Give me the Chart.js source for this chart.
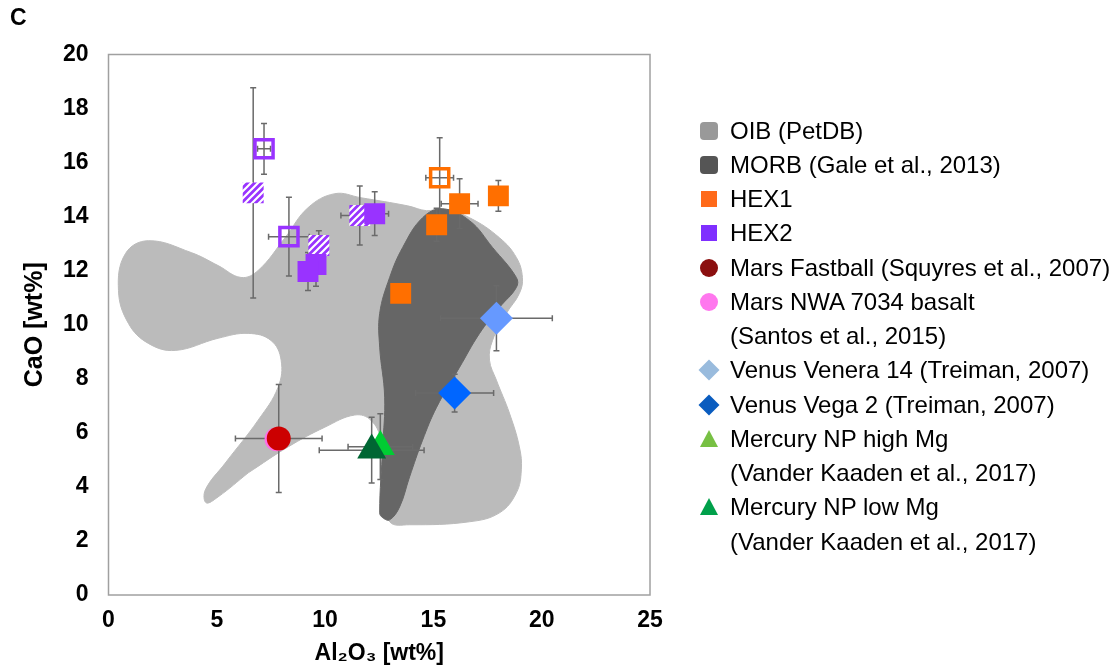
<!DOCTYPE html>
<html>
<head>
<meta charset="utf-8">
<script src="https://cdn.jsdelivr.net/npm/chart.js@4.4.1/dist/chart.umd.min.js"></script>
<style>
  body { margin: 0; background: #fff; font-family: "Liberation Sans", Arial, sans-serif; }
  #wrap { position: relative; width: 1115px; height: 672px; }
  #painel { position: absolute; left: 10px; top: 4px; font-weight: bold; font-size: 23px; }
  #legenda { position: absolute; left: 697px; top: 113.5px; font-size: 24px; color: #000; }
  .linha { height: 34.27px; line-height: 34.27px; white-space: nowrap; position: relative; padding-left: 33px; }
  .linha svg { position: absolute; left: 0; top: 5px; }
</style>
</head>
<body>
<div id="wrap">
  <canvas id="grafico" width="1115" height="672"></canvas>
  <div id="painel">C</div>
  <div id="legenda"></div>
</div>
<script>
// ---- dados ----
const xTicks = [0, 5, 10, 15, 20, 25];
const yTicks = [0, 2, 4, 6, 8, 10, 12, 14, 16, 18, 20];

// contorno OIB (PetDB) - começa num trecho reto da cauda inferior
const oibX = [6.45, 5.06, 4.51, 4.47, 5.39, 6.91, 7.83, 7.97, 7.50, 6.45, 5.06, 3.08, 1.84, 0.92, 0.46, 0.78, 1.84, 3.82, 5.06, 6.12, 6.91, 8.15, 9.21, 10.45, 11.65, 13.81, 14.69, 15.42, 16.67, 18.05, 18.83, 19.11, 18.97, 18.37, 17.73, 17.59, 17.91, 18.51, 18.97, 19.06, 18.83, 18.05, 16.67, 13.90, 12.98, 12.62, 12.57, 12.11, 11.37, 9.99, 8.29, 6.45];
const oibY = [4.52, 3.63, 3.41, 3.89, 4.88, 6.47, 7.69, 8.69, 9.42, 9.68, 9.50, 9.05, 9.31, 10.05, 11.27, 12.63, 13.11, 12.67, 12.19, 11.75, 12.01, 13.22, 14.33, 14.85, 14.70, 14.40, 14.22, 14.29, 13.96, 13.22, 12.49, 11.75, 11.16, 10.42, 9.42, 8.69, 7.95, 6.73, 5.48, 4.63, 3.78, 3.04, 2.71, 2.60, 2.71, 3.89, 5.73, 6.47, 6.66, 6.21, 5.48, 4.52];

// contorno MORB (Gale et al., 2013)
const morbX = [16.21, 15.15, 14.50, 13.90, 13.44, 12.98, 12.66, 12.52, 12.66, 12.75, 12.52, 12.52, 12.98, 13.58, 14.50, 15.42, 16.67, 17.73, 18.83, 18.83, 18.05, 17.13, 16.21];
const morbY = [8.43, 6.95, 5.73, 4.37, 3.26, 2.78, 2.86, 3.04, 5.48, 7.32, 9.17, 10.42, 11.75, 12.86, 13.96, 14.29, 13.85, 12.86, 11.75, 11.38, 10.64, 9.68, 8.43];

// HEX1
const hex1X = [16.21, 18.00, 15.15, 13.49];
const hex1Y = [14.48, 14.77, 13.70, 11.16];
const hex1XErr = [0.85, 0, 0, 0];
const hex1YErr = [0.92, 0.57, 0.61, 0];
const hex1AbertoX = [15.29];
const hex1AbertoY = [15.44];
const hex1AbertoXErr = [0.64];
const hex1AbertoYErr = [1.48];

// HEX2
const hex2X = [12.29, 9.58, 9.21];
const hex2Y = [14.11, 12.23, 11.97];
const hex2XErr = [0.64, 0, 0];
const hex2YErr = [0.81, 0.81, 0.70];
const hex2HachX = [6.68, 9.71, 11.60];
const hex2HachY = [14.88, 12.93, 14.04];
const hex2HachXErr = [0, 0, 0.87];
const hex2HachYErr = [3.89, 0.55, 1.09];
const hex2AbertoX = [7.18, 8.33];
const hex2AbertoY = [16.51, 13.26];
const hex2AbertoXErr = [0.30, 0.94];
const hex2AbertoYErr = [0.94, 1.46];

// Marte, Vênus, Mercúrio
const fastballX = [7.86], fastballY = [5.79], fastballXErr = [2.0], fastballYErr = [2.0];
const nwaX = [7.76], nwaY = [5.76];
const veneraX = [17.91], veneraY = [10.24], veneraXErr = [2.58], veneraYErr = [1.2];
const vegaX = [15.98], vegaY = [7.47], vegaXErr = [1.8], vegaYErr = [0.7];
const mercAltoX = [12.55], mercAltoY = [5.49], mercAltoXErr = [1.49], mercAltoYErr = [1.22];
const mercBaixoX = [12.15], mercBaixoY = [5.36], mercBaixoXErr = [2.42], mercBaixoYErr = [1.22];

const legendaItens = [
    { texto: ["OIB (PetDB)"], forma: "round", cor: "#999999" },
    { texto: ["MORB (Gale et al., 2013)"], forma: "round", cor: "#555555" },
    { texto: ["HEX1"], forma: "square", cor: "#ff6a1a" },
    { texto: ["HEX2"], forma: "square", cor: "#7f2fff" },
    { texto: ["Mars Fastball (Squyres et al., 2007)"], forma: "circle", cor: "#8b0f0f" },
    { texto: ["Mars NWA 7034 basalt", "(Santos et al., 2015)"], forma: "circle", cor: "#ff77ee" },
    { texto: ["Venus Venera 14 (Treiman, 2007)"], forma: "diamond", cor: "#99bbdd" },
    { texto: ["Venus Vega 2 (Treiman, 2007)"], forma: "diamond", cor: "#0a5cbf" },
    { texto: ["Mercury NP high Mg", "(Vander Kaaden et al., 2017)"], forma: "triangle", cor: "#77c043" },
    { texto: ["Mercury NP low Mg", "(Vander Kaaden et al., 2017)"], forma: "triangle", cor: "#00a04a" }
];

function pontos(xs, ys) {
    return xs.map((x, i) => ({ x: x, y: ys[i] }));
}

// padrão hachurado (listras brancas diagonais)
function hachura(cor) {
    const c = document.createElement("canvas");
    c.width = 7; c.height = 7;
    const g = c.getContext("2d");
    g.fillStyle = cor;
    g.fillRect(0, 0, 7, 7);
    g.strokeStyle = "#ffffff";
    g.lineWidth = 2.2;
    g.beginPath();
    g.moveTo(-1, 8); g.lineTo(8, -1);
    g.moveTo(-1, 1); g.lineTo(1, -1);
    g.moveTo(6, 8); g.lineTo(8, 6);
    g.stroke();
    return g.createPattern(c, "repeat");
}

// barras de erro, desenhadas logo depois do MORB (abaixo dos marcadores)
const barrasErro = {
    id: "barrasErro",
    afterDatasetDraw(chart, args) {
        if (chart.data.datasets[args.index].label !== "MORB") return;
        const xs = chart.scales.x, ys = chart.scales.y, ctx = chart.ctx;
        const cap = 3;
        ctx.save();
        ctx.strokeStyle = "#6a6a6a";
        ctx.lineWidth = 1.5;
        chart.data.datasets.forEach(ds => {
            if (!ds.xErr) return;
            ds.data.forEach((p, i) => {
                const px = xs.getPixelForValue(p.x);
                const py = ys.getPixelForValue(p.y);
                const ex = ds.xErr[i] || 0, ey = ds.yErr[i] || 0;
                ctx.beginPath();
                if (ex) {
                    const x1 = xs.getPixelForValue(p.x - ex), x2 = xs.getPixelForValue(p.x + ex);
                    ctx.moveTo(x1, py); ctx.lineTo(x2, py);
                    ctx.moveTo(x1, py - cap); ctx.lineTo(x1, py + cap);
                    ctx.moveTo(x2, py - cap); ctx.lineTo(x2, py + cap);
                }
                if (ey) {
                    const y1 = ys.getPixelForValue(p.y - ey), y2 = ys.getPixelForValue(p.y + ey);
                    ctx.moveTo(px, y1); ctx.lineTo(px, y2);
                    ctx.moveTo(px - cap, y1); ctx.lineTo(px + cap, y1);
                    ctx.moveTo(px - cap, y2); ctx.lineTo(px + cap, y2);
                }
                ctx.stroke();
            });
        });
        ctx.restore();
    }
};

// moldura da área do gráfico
const moldura = {
    id: "moldura",
    afterDraw(chart) {
        const a = chart.chartArea, ctx = chart.ctx;
        ctx.save();
        ctx.strokeStyle = "#a0a0a0";
        ctx.lineWidth = 1.5;
        ctx.strokeRect(a.left, a.top, a.right - a.left, a.bottom - a.top);
        ctx.restore();
    }
};

Chart.defaults.font.family = '"Liberation Sans", Arial, sans-serif';

const fonteEixo = { size: 23, weight: "bold" };

const grafico = new Chart(document.getElementById("grafico").getContext("2d"), {
    type: "scatter",
    data: {
        datasets: [
            {
                type: "line", label: "OIB", data: pontos(oibX, oibY),
                backgroundColor: "#bbbbbb", borderColor: "#bbbbbb", borderWidth: 1,
                pointRadius: 0, fill: "shape", tension: 0.4, order: 20
            },
            {
                type: "line", label: "MORB", data: pontos(morbX, morbY),
                backgroundColor: "#666666", borderColor: "#666666", borderWidth: 1,
                pointRadius: 0, fill: "shape", tension: 0.4, order: 19
            },
            {
                label: "HEX1", data: pontos(hex1X, hex1Y), xErr: hex1XErr, yErr: hex1YErr,
                pointStyle: "rect", pointRadius: 14.8, backgroundColor: "#ff6f00", borderWidth: 0, order: 1
            },
            {
                label: "HEX1 aberto", data: pontos(hex1AbertoX, hex1AbertoY), xErr: hex1AbertoXErr, yErr: hex1AbertoYErr,
                pointStyle: "rect", pointRadius: 12.8, backgroundColor: "rgba(0,0,0,0)", borderColor: "#ff6f00", borderWidth: 3.5, order: 1
            },
            {
                label: "HEX2", data: pontos(hex2X, hex2Y), xErr: hex2XErr, yErr: hex2YErr,
                pointStyle: "rect", pointRadius: 14.8, backgroundColor: "#9933ff", borderWidth: 0, order: 1
            },
            {
                label: "HEX2 hachurado", data: pontos(hex2HachX, hex2HachY), xErr: hex2HachXErr, yErr: hex2HachYErr,
                pointStyle: "rect", pointRadius: 14.8, backgroundColor: hachura("#9933ff"), borderWidth: 0, order: 2
            },
            {
                label: "HEX2 aberto", data: pontos(hex2AbertoX, hex2AbertoY), xErr: hex2AbertoXErr, yErr: hex2AbertoYErr,
                pointStyle: "rect", pointRadius: 12.8, backgroundColor: "rgba(0,0,0,0)", borderColor: "#9933ff", borderWidth: 3.5, order: 1
            },
            {
                label: "Mars Fastball", data: pontos(fastballX, fastballY), xErr: fastballXErr, yErr: fastballYErr,
                pointStyle: "circle", pointRadius: 12, backgroundColor: "#cc0000", borderWidth: 0, order: 1
            },
            {
                label: "Mars NWA 7034", data: pontos(nwaX, nwaY),
                pointStyle: "circle", pointRadius: 12, backgroundColor: "#ff6ee6", borderWidth: 0, order: 2
            },
            {
                label: "Venera 14", data: pontos(veneraX, veneraY), xErr: veneraXErr, yErr: veneraYErr,
                pointStyle: "rectRot", pointRadius: 16.5, backgroundColor: "#6699ff", borderWidth: 0, order: 1
            },
            {
                label: "Vega 2", data: pontos(vegaX, vegaY), xErr: vegaXErr, yErr: vegaYErr,
                pointStyle: "rectRot", pointRadius: 16.5, backgroundColor: "#0066ff", borderWidth: 0, order: 1
            },
            {
                label: "Mercury high Mg", data: pontos(mercAltoX, mercAltoY), xErr: mercAltoXErr, yErr: mercAltoYErr,
                pointStyle: "triangle", pointRadius: 16.7, backgroundColor: "#00cc33", borderWidth: 0, order: 2
            },
            {
                label: "Mercury low Mg", data: pontos(mercBaixoX, mercBaixoY), xErr: mercBaixoXErr, yErr: mercBaixoYErr,
                pointStyle: "triangle", pointRadius: 16.7, backgroundColor: "#006633", borderWidth: 0, order: 1
            }
        ]
    },
    plugins: [barrasErro, moldura],
    options: {
        responsive: false,
        animation: false,
        events: [],
        layout: { padding: { left: 0, top: 54.5, right: 465, bottom: 0 } },
        plugins: {
            legend: { display: false },
            tooltip: { enabled: false }
        },
        scales: {
            x: {
                type: "linear", min: 0, max: 25,
                afterBuildTicks: (s) => { s.ticks = xTicks.map(v => ({ value: v })); },
                afterFit: (s) => { s.height = 77; },
                grid: { display: false, drawTicks: false },
                border: { display: false },
                ticks: { font: fonteEixo, color: "#000", padding: 12 },
                title: { display: true, text: "Al₂O₃ [wt%]", font: fonteEixo, color: "#000", padding: { top: 5, bottom: 5 } }
            },
            y: {
                type: "linear", min: 0, max: 20,
                afterBuildTicks: (s) => { s.ticks = yTicks.map(v => ({ value: v })); },
                afterFit: (s) => { s.width = 108.5; },
                grid: { display: false, drawTicks: false },
                border: { display: false },
                ticks: { font: fonteEixo, color: "#000", padding: 20 },
                title: { display: true, text: "CaO [wt%]", font: { size: 25, weight: "bold" }, color: "#000", padding: { top: 20, bottom: 20 } }
            }
        }
    }
});

// legenda em HTML (tem entradas de duas linhas)
function simbolo(forma, cor) {
    let s = "";
    if (forma === "round") s = `<rect x="3" y="3" width="18" height="18" rx="4" fill="${cor}"/>`;
    if (forma === "square") s = `<rect x="4" y="4" width="16" height="16" fill="${cor}"/>`;
    if (forma === "circle") s = `<circle cx="12" cy="12" r="9" fill="${cor}"/>`;
    if (forma === "diamond") s = `<polygon points="12,1.5 22.5,12 12,22.5 1.5,12" fill="${cor}"/>`;
    if (forma === "triangle") s = `<polygon points="12,3 21,20 3,20" fill="${cor}"/>`;
    return `<svg width="24" height="24" viewBox="0 0 24 24">${s}</svg>`;
}

const legenda = document.getElementById("legenda");
legendaItens.forEach(item => {
    item.texto.forEach((linha, i) => {
        const div = document.createElement("div");
        div.className = "linha";
        div.innerHTML = (i === 0 ? simbolo(item.forma, item.cor) : "") + linha;
        legenda.appendChild(div);
    });
});
</script>
</body>
</html>
